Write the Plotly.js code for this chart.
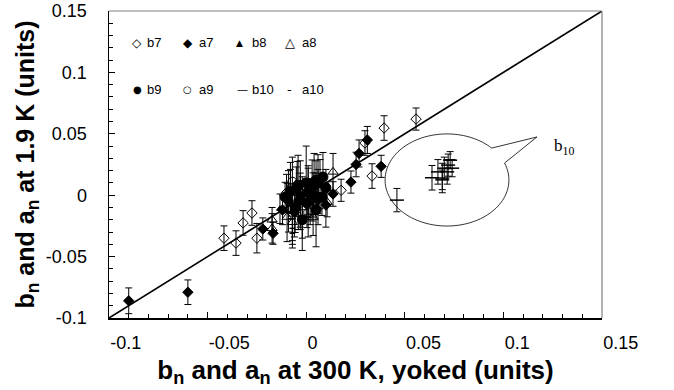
<!DOCTYPE html>
<html>
<head>
<meta charset="utf-8">
<script src="https://cdn.plot.ly/plotly-3.0.1.min.js"></script>
<style>html,body{margin:0;padding:0;background:#fff;}#chart{width:674px;height:390px;}</style>
</head>
<body>
<div id="chart"></div>
<script>
// ---- data ----
const tickVals = [-0.1, -0.05, 0, 0.05, 0.1, 0.15];
const tickText = ["-0.1", "-0.05", "0", "0.05", "0.1", "0.15"];

const diagonalX = [-0.1, 0.15];
const diagonalY = [-0.1, 0.15];

const b7x = [-0.0417, -0.0356, -0.032, -0.0275, -0.025, -0.010, -0.004, 0.005, 0.0177, 0.0334, 0.0298, 0.0395, 0.0557];
const b7y = [-0.035, -0.039, -0.0226, -0.0145, -0.035, 0.002, -0.008, 0.010, 0.004, 0.0156, 0.0425, 0.0547, 0.062];
const b7e = [0.010, 0.010, 0.010, 0.010, 0.012, 0.015, 0.020, 0.018, 0.009, 0.010, 0.010, 0.010, 0.009];

const a7x = [-0.090, -0.060, -0.022, -0.0168, -0.012, -0.006, 0.001, 0.006, 0.0136, 0.0227, 0.0253, 0.0268, 0.031, 0.038, -0.009, 0.004, 0.010, -0.003];
const a7y = [-0.086, -0.079, -0.0275, -0.031, -0.012, -0.014, 0.004, -0.004, 0.001, 0.0107, 0.025, 0.034, 0.045, 0.0235, -0.005, 0.012, -0.008, 0.000];
const a7e = [0.0105, 0.010, 0.009, 0.009, 0.012, 0.020, 0.020, 0.020, 0.010, 0.009, 0.010, 0.011, 0.011, 0.009, 0.025, 0.022, 0.018, 0.028];

const b8x = [-0.0133, -0.005, 0.002, 0.007];
const b8y = [-0.011, 0.003, -0.006, 0.009];
const b8e = [0.012, 0.020, 0.018, 0.020];

const a8x = [-0.0173, -0.0173, -0.0097, -0.007, -0.008, 0.0035, 0.0106, 0.0136, -0.002];
const a8y = [-0.020, -0.027, -0.0178, -0.022, 0.0067, -0.0178, -0.0056, 0.019, -0.010];
const a8e = [0.010, 0.012, 0.020, 0.018, 0.020, 0.015, 0.012, 0.015, 0.025];

const b9x = [-0.0107, -0.0041, -0.0056, 0.003, 0.0085, 0.0035, 0.008, 0.0004, -0.003, -0.0097, -0.0046, 0.010, 0.000, 0.005, -0.002, 0.001, 0.006, -0.008];
const b9y = [-0.0015, 0.0075, -0.0104, 0.0067, 0.0148, 0.0002, -0.0015, -0.0064, -0.004, -0.0023, 0.0075, 0.006, 0.010, -0.012, -0.020, 0.002, 0.011, 0.003];
const b9e = [0.012, 0.025, 0.020, 0.022, 0.020, 0.018, 0.015, 0.020, 0.022, 0.012, 0.020, 0.015, 0.030, 0.030, 0.025, 0.020, 0.022, 0.018];

const a9x = [-0.007, 0.001, 0.006];
const a9y = [0.011, -0.014, 0.003];
const a9e = [0.020, 0.020, 0.018];

const b10x = [0.046, 0.0638, 0.069, 0.0668, 0.070, 0.072, 0.073, 0.0715, 0.069, 0.074];
const b10y = [-0.004, 0.0142, 0.014, 0.019, 0.022, 0.0245, 0.0285, 0.019, 0.0125, 0.022];
const b10e = [0.0095, 0.010, 0.012, 0.010, 0.009, 0.009, 0.007, 0.010, 0.008, 0.007];

const a10x = [-0.007, -0.007, 0.003, 0.006];
const a10y = [-0.027, -0.031, -0.006, 0.002];
const a10e = [0.010, 0.012, 0.015, 0.012];

const legendSymbols = ["\u25C7", "\u25C6", "\u25B2", "\u25B3", "\u25CF", "\u25CB", "\u2014", "-"];
const legendNames = ["b7", "a7", "b8", "a8", "b9", "a9", "b10", "a10"];

// ---- styling ----
const FONT = "Arial, 'Liberation Sans', sans-serif";
function series(name, x, y, e, symbol, size, lineW) {
  return {
    type: "scatter", mode: "markers", name: name, x: x, y: y, showlegend: false,
    marker: {symbol: symbol, size: size, color: "black", line: {color: "black", width: lineW}},
    error_y: {type: "data", array: e, visible: true, color: "black", thickness: 1, width: 3.5}
  };
}

const traces = [
  {type: "scatter", mode: "lines", x: diagonalX, y: diagonalY, showlegend: false,
   line: {color: "black", width: 1.6}, hoverinfo: "skip"},
  series("b7", b7x, b7y, b7e, "diamond-open", 8, 1),
  series("a7", a7x, a7y, a7e, "diamond", 8, 1),
  series("b8", b8x, b8y, b8e, "triangle-up", 6, 1),
  series("a8", a8x, a8y, a8e, "triangle-up-open", 9, 1),
  series("b9", b9x, b9y, b9e, "circle", 10, 1),
  series("a9", a9x, a9y, a9e, "circle-open", 9, 1),
  series("b10", b10x, b10y, b10e, "line-ew", 10, 1.5),
  series("a10", a10x, a10y, a10e, "line-ew", 4, 1.5)
];

// speech balloon around the b10 group (geometry in data units)
const bc = {cx: 0.0714, cy: 0.0124, rx: 0.0314, ry: 0.0375, a1: 43.8, a2: 21.6 + 360, tipX: 0.117, tipY: 0.0474};
let path = "";
for (let a = bc.a1; a <= bc.a2 + 1e-9; a += (bc.a2 - bc.a1) / 120) {
  const t = a * Math.PI / 180;
  const px = bc.cx + bc.rx * Math.cos(t), py = bc.cy + bc.ry * Math.sin(t);
  path += (path ? " L " : "M ") + px.toFixed(5) + "," + py.toFixed(5);
}
path += " L " + bc.tipX + "," + bc.tipY + " Z";

const annotations = [];
const symX = [0.0568, 0.1602, 0.2657, 0.3671, 0.0568, 0.1602, 0.2698, 0.3671];
const txtX = [0.073, 0.1785, 0.286, 0.3874, 0.073, 0.1785, 0.286, 0.3874];
const rowY = [0.896, 0.743];
const symSize = [12, 12, 9, 13, 10, 10, 11, 13];
legendNames.forEach((n, i) => {
  const r = Math.floor(i / 4);
  annotations.push({xref: "paper", yref: "paper", x: symX[i], y: rowY[r], xanchor: "center", yanchor: "middle",
    text: legendSymbols[i], showarrow: false, font: {family: "'DejaVu Sans', sans-serif", size: symSize[i], color: "black"}});
  annotations.push({xref: "paper", yref: "paper", x: txtX[i], y: rowY[r], xanchor: "left", yanchor: "middle",
    text: n, showarrow: false, font: {family: FONT, size: 13, color: "black"}});
});
annotations.push({xref: "x", yref: "y", x: 0.1246, y: 0.0395, xanchor: "left", yanchor: "middle", text: "b<sub>10</sub>", showarrow: false, font: {family: "'Liberation Serif', 'Times New Roman', serif", size: 17, color: "black"}});

const axisCommon = {
  range: [-0.1, 0.15], showgrid: false, zeroline: false, showline: true, linecolor: "black", linewidth: 1.5,
  ticks: "inside", ticklen: 6, tickwidth: 1, tickcolor: "black",
  tickmode: "array", tickvals: tickVals, ticktext: tickText,
  tickfont: {family: FONT, size: 18, color: "black"},
  minor: {ticks: "inside", ticklen: 4, tickwidth: 1, tickcolor: "black", tickmode: "linear", tick0: -0.1, dtick: 0.01},
  fixedrange: true
};

const layout = {
  width: 674, height: 390,
  margin: {l: 109, r: 72, t: 11, b: 72},
  paper_bgcolor: "white", plot_bgcolor: "white",
  showlegend: false,
  xaxis: Object.assign({}, axisCommon, {
    ticklabelposition: "outside right", ticklabelstandoff: 8,
    title: {text: "<b>b<sub>n</sub> and a<sub>n</sub> at 300 K, yoked (units)</b>", font: {family: FONT, size: 26, color: "black"}, standoff: 8}
  }),
  yaxis: Object.assign({}, axisCommon, {
    ticklabelstandoff: 17,
    title: {text: "<b>b<sub>n</sub> and a<sub>n</sub> at 1.9 K (units)</b>", font: {family: FONT, size: 25, color: "black"}, standoff: 4}
  }),
  shapes: [
    {type: "line", xref: "paper", yref: "paper", x0: 0, x1: 1, y0: 1, y1: 1, line: {color: "#808080", width: 1.2}},
    {type: "line", xref: "paper", yref: "paper", x0: 1, x1: 1, y0: 0, y1: 1, line: {color: "#808080", width: 1.2}},
    {type: "path", xref: "x", yref: "y", path: path, line: {color: "black", width: 0.8}}
  ],
  annotations: annotations
};

Plotly.newPlot("chart", traces, layout, {displayModeBar: false, staticPlot: true});
</script>
</body>
</html>
